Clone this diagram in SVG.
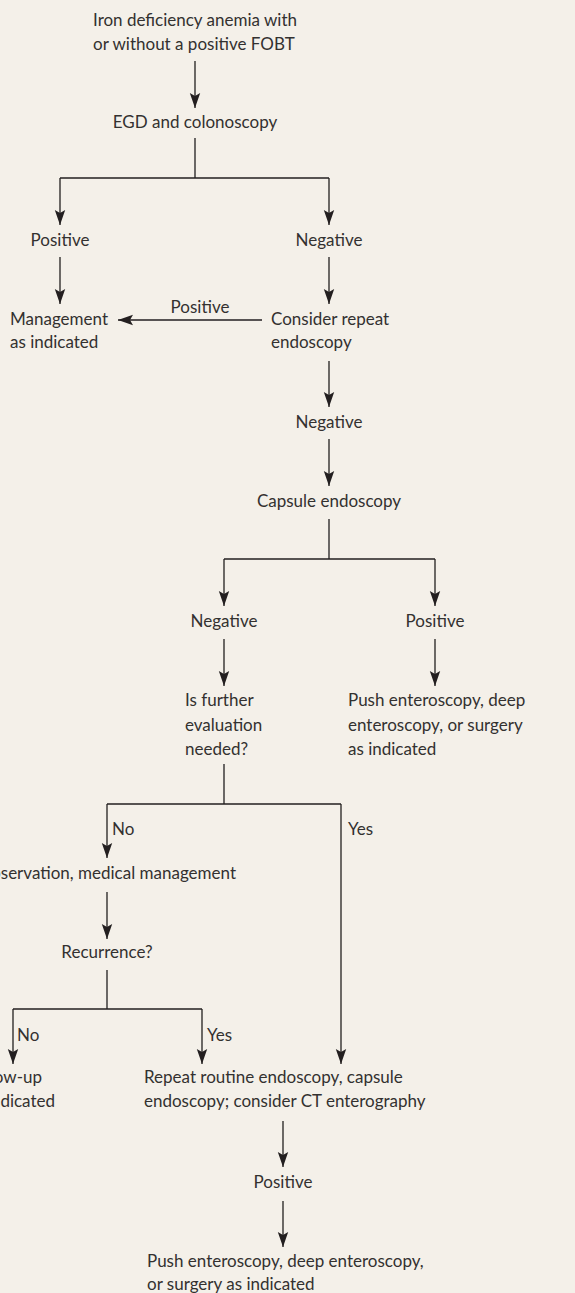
<svg xmlns="http://www.w3.org/2000/svg" width="575" height="1293" viewBox="0 0 575 1293">
<style>
text{font-family:Lato,"Liberation Sans",sans-serif;font-size:17px;fill:#333130}
.c{text-anchor:middle}
.e{text-anchor:end}
.ln{fill:none;stroke:#231f20;stroke-width:1.3}
.ar{fill:none;stroke:#231f20;stroke-width:1.3;marker-end:url(#ah)}
</style>
<defs>
<marker id="ah" viewBox="-16 -6 17 12" refX="0" refY="0" markerWidth="17" markerHeight="12" markerUnits="userSpaceOnUse" orient="auto">
<path d="M0,0 L-15,-5.2 L-12,0 L-15,5.2 Z" fill="#231f20"/>
</marker>
</defs>
<rect x="0" y="0" width="575" height="1293" fill="#f4f0e9"/>
<g id="connectors">
<path class="ar" d="M195,61 V108"/>
<path class="ln" d="M195,138 V178 M60,178 H329"/>
<path class="ar" d="M60,178 V225"/>
<path class="ar" d="M329,178 V225"/>
<path class="ar" d="M60,257 V304"/>
<path class="ar" d="M329,257 V304"/>
<path class="ar" d="M262,320 H118"/>
<text class="c" x="200" y="313">Positive</text>
<path class="ar" d="M329,361 V407"/>
<path class="ar" d="M329,439 V486"/>
<path class="ln" d="M329,519 V559 M224,559 H435"/>
<path class="ar" d="M224,559 V606"/>
<path class="ar" d="M435,559 V606"/>
<path class="ar" d="M224,639 V686"/>
<path class="ar" d="M435,639 V686"/>
<path class="ln" d="M224,764 V804 M107,804 H341"/>
<path class="ar" d="M107,804 V858"/>
<path class="ar" d="M341,804 V1064"/>
<text x="112" y="835">No</text>
<text x="348" y="835">Yes</text>
<path class="ar" d="M107,892 V939"/>
<path class="ln" d="M107,970 V1009 M13,1009 H202"/>
<path class="ar" d="M13,1009 V1064"/>
<path class="ar" d="M202,1009 V1064"/>
<text x="17" y="1041">No</text>
<text x="207" y="1041">Yes</text>
<path class="ar" d="M283,1121 V1167"/>
<path class="ar" d="M283,1201 V1247"/>
</g>
<g id="n_start"><text x="93" y="26">Iron deficiency anemia with</text><text x="93" y="50">or without a positive FOBT</text></g>
<g id="n_egd"><text class="c" x="195" y="128">EGD and colonoscopy</text></g>
<g id="n_pos1"><text class="c" x="60" y="246">Positive</text></g>
<g id="n_neg1"><text class="c" x="329" y="246">Negative</text></g>
<g id="n_mgmt"><text x="10" y="325">Management</text><text x="10" y="348">as indicated</text></g>
<g id="n_repeat"><text x="271" y="325">Consider repeat</text><text x="271" y="348">endoscopy</text></g>
<g id="n_neg2"><text class="c" x="329" y="428">Negative</text></g>
<g id="n_capsule"><text class="c" x="329" y="507">Capsule endoscopy</text></g>
<g id="n_neg3"><text class="c" x="224" y="627">Negative</text></g>
<g id="n_pos3"><text class="c" x="435" y="627">Positive</text></g>
<g id="n_further"><text x="185" y="706">Is further</text><text x="185" y="731">evaluation</text><text x="185" y="755">needed?</text></g>
<g id="n_push1"><text x="348" y="706">Push enteroscopy, deep</text><text x="348" y="731">enteroscopy, or surgery</text><text x="348" y="755">as indicated</text></g>
<g id="n_obs"><text class="e" x="236" y="879">Observation, medical management</text></g>
<g id="n_recur"><text class="c" x="107" y="958">Recurrence?</text></g>
<g id="n_follow"><text class="e" x="42" y="1083">Follow-up</text><text class="e" x="55" y="1107">as indicated</text></g>
<g id="n_routine"><text x="144" y="1083">Repeat routine endoscopy, capsule</text><text x="144" y="1107">endoscopy; consider CT enterography</text></g>
<g id="n_pos4"><text class="c" x="283" y="1188">Positive</text></g>
<g id="n_push2"><text x="147" y="1267">Push enteroscopy, deep enteroscopy,</text><text x="147" y="1290">or surgery as indicated</text></g>
</svg>
